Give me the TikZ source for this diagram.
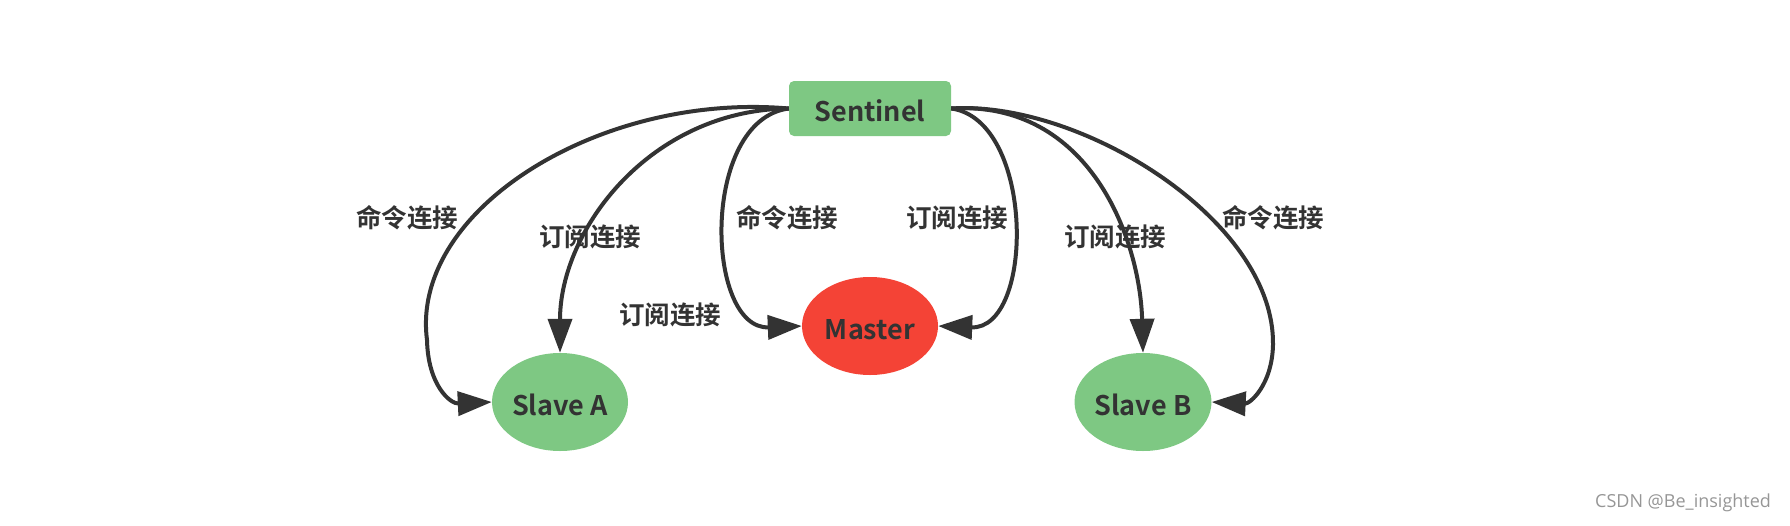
\documentclass[tikz,border=0pt]{standalone}
\usepackage{fontspec}
\newfontfamily\cjk{Noto Sans CJK SC}[BoldFont={Noto Sans CJK SC Bold}]
\newfontfamily\wmfont{Open Sans}
\usetikzlibrary{shapes.geometric,arrows.meta}
\definecolor{ink}{HTML}{333333}
\definecolor{ngreen}{RGB}{126,200,131}
\definecolor{nred}{RGB}{244,67,54}
\definecolor{wm}{RGB}{150,150,150}
\tikzset{
  conn/.style={draw=ink, line width=4pt, -{Triangle[length=34pt,width=24pt]}},
  sentbox/.style={rectangle, rounded corners=5pt, fill=ngreen, minimum width=162pt, minimum height=55pt, inner sep=0pt, text height=25pt, text depth=0pt, text=ink, font=\cjk\bfseries\fontsize{27}{32}\selectfont},
  oval/.style={ellipse, minimum width=136pt, minimum height=98pt, inner sep=0pt, text height=26pt, text depth=0pt, text=ink, font=\cjk\bfseries\fontsize{27}{32}\selectfont},
  lbl/.style={text=ink, inner sep=0pt, font=\cjk\bfseries\fontsize{25.5}{30}\selectfont},
}
\begin{document}
\begin{tikzpicture}[x=1pt,y=-1pt]
\useasboundingbox (0,0) rectangle (1790,525);
\node[sentbox] (sen) at (870,108.5) {Sentinel};
\node[oval, fill=ngreen] (sa) at (560,402) {Slave A};
\node[oval, fill=nred] (ms) at (870,326) {Master};
\node[oval, fill=ngreen] (sb) at (1143,402) {Slave B};
% left connectors
\draw[conn] (sen.west) .. controls (600,92) and (410,210) .. (427,340) .. controls (428,385) and (450,404) .. (sa.west);
\draw[conn] (sen.west) .. controls (650,110) and (560,230) .. (sa.north);
\draw[conn] (sen.west) .. controls (700,120) and (705,330) .. (ms.west);
% right connectors
\draw[conn] (sen.east) .. controls (1035,120) and (1035,330) .. (ms.east);
\draw[conn] (sen.east) .. controls (1090,100) and (1140,240) .. (sb.north);
\draw[conn] (sen.east) .. controls (1080,100) and (1275,220) .. (1273,345) .. controls (1272,385) and (1250,404) .. (sb.east);
% labels
\node[lbl] (l1) at (407,218) {命令连接};
\node[lbl] (l2) at (590,237) {订阅连接};
\node[lbl] (l3) at (670,315) {订阅连接};
\node[lbl] (l4) at (787,218) {命令连接};
\node[lbl] (l5) at (957,218) {订阅连接};
\node[lbl] (l6) at (1115,237) {订阅连接};
\node[lbl] (l7) at (1273,218) {命令连接};
\node[text=wm, inner sep=0pt, font=\wmfont\fontsize{18}{22}\selectfont] (wmk) at (1683,503) {CSDN @Be\_insighted};
\end{tikzpicture}
\end{document}
